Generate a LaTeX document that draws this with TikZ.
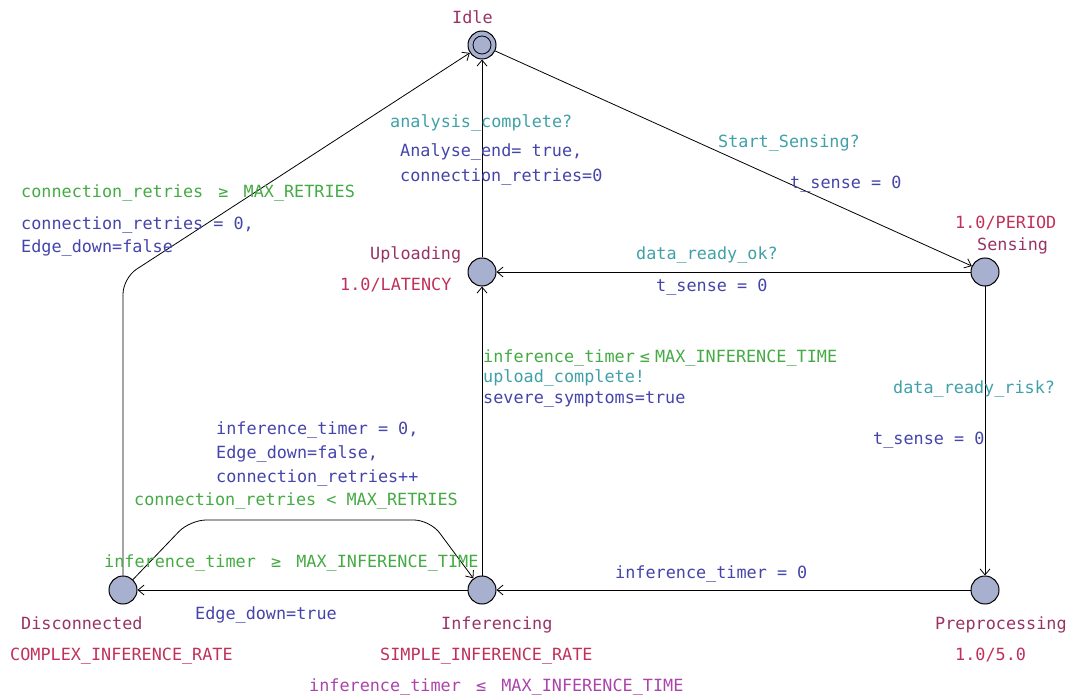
\documentclass[tikz,border=0pt]{standalone}
\usepackage{fontspec}
\newfontfamily\mono{DejaVu Sans Mono}
\usetikzlibrary{arrows.meta}
\definecolor{locname}{HTML}{993366}
\definecolor{rate}{HTML}{C0305A}
\definecolor{sync}{HTML}{40A0A8}
\definecolor{upd}{HTML}{4444AA}
\definecolor{guard}{HTML}{44AA44}
\definecolor{inv}{HTML}{AA44AA}
\definecolor{locfill}{HTML}{A8B0D0}
\newcommand\wsym[1]{\makebox[20.2pt][c]{#1}}
\tikzset{
  lbl/.style={font=\mono\fontsize{16.8}{20}\selectfont, inner sep=0pt, anchor=west, text height=12pt, text depth=3.5pt, yshift=-2pt},
  loc/.style={circle, draw=black, line width=1pt, fill=locfill, minimum size=28pt, inner sep=0pt},
  edge/.style={draw=black, line width=0.8pt, -{Straight Barb[length=6pt,width=10pt]}},
}
\begin{document}
\begin{tikzpicture}[x=1pt,y=-1pt]
\useasboundingbox (0,0) rectangle (1072,695);
% locations
\node[loc] (idle) at (482,45) {};
\node[circle, draw=black, line width=0.8pt, minimum size=18pt, inner sep=0pt] (idlein) at (482,45) {};
\node[loc] (sens) at (985,272) {};
\node[loc] (upl) at (482,272) {};
\node[loc] (inf) at (482,590) {};
\node[loc] (dis) at (123,590) {};
\node[loc] (pre) at (985,590) {};
% location labels
\node[lbl, text=locname] (lidle) at (452,17) {Idle};
\node[lbl, text=locname] (lupl) at (370,253) {Uploading};
\node[lbl, text=rate] (rupl) at (340,284) {1.0/LATENCY};
\node[lbl, text=rate] (rsens) at (955,222) {1.0/PERIOD};
\node[lbl, text=locname] (lsens) at (977,244) {Sensing};
\node[lbl, text=locname] (ldis) at (21,623) {Disconnected};
\node[lbl, text=rate] (rdis) at (10,654) {COMPLEX\_INFERENCE\_RATE};
\node[lbl, text=locname] (linf) at (441,623) {Inferencing};
\node[lbl, text=rate] (rinf) at (380,654) {SIMPLE\_INFERENCE\_RATE};
\node[lbl, text=inv] (iinf) at (309,685) {inference\_timer \wsym{≤} MAX\_INFERENCE\_TIME};
\node[lbl, text=locname] (lpre) at (935,623) {Preprocessing};
\node[lbl, text=rate] (rpre) at (955,654) {1.0/5.0};
% corner coordinates
\coordinate (c1) at (123,278);
\coordinate (c2) at (190,520);
\coordinate (c3) at (430,520);
% edges
\draw[edge] (idle) -- (sens);
\draw[edge] (sens) -- (upl);
\draw[edge] (upl) -- (idle);
\draw[edge] (sens) -- (pre);
\draw[edge] (pre) -- (inf);
\draw[edge] (inf) -- (upl);
\draw[edge] (inf) -- (dis);
\draw[edge, rounded corners=16pt] (dis) -- (c2) -- (c3) -- (inf);
\draw[edge, rounded corners=16pt] (dis) -- (c1) -- (idle);
% edge labels
\node[lbl, text=sync] (s1) at (718,141) {Start\_Sensing?};
\node[lbl, text=upd] (u1) at (790,182) {t\_sense = 0};
\node[lbl, text=sync] (s2) at (636,253) {data\_ready\_ok?};
\node[lbl, text=upd] (u2) at (656,285) {t\_sense = 0};
\node[lbl, text=sync] (s3) at (390,121) {analysis\_complete?};
\node[lbl, text=upd] (u3a) at (400,150) {Analyse\_end= true,};
\node[lbl, text=upd] (u3b) at (400,175) {connection\_retries=0};
\node[lbl, text=sync] (s4) at (893,387) {data\_ready\_risk?};
\node[lbl, text=upd] (u4) at (873,438) {t\_sense = 0};
\node[lbl, text=upd] (u5) at (615,572) {inference\_timer = 0};
\node[lbl, text=guard] (g6) at (483,356) {inference\_timer\wsym{≤}MAX\_INFERENCE\_TIME};
\node[lbl, text=sync] (s6) at (483,376) {upload\_complete!};
\node[lbl, text=upd] (u6) at (483,397) {severe\_symptoms=true};
\node[lbl, text=guard] (g7) at (104,561) {inference\_timer \wsym{≥} MAX\_INFERENCE\_TIME};
\node[lbl, text=upd] (u7) at (195,613) {Edge\_down=true};
\node[lbl, text=guard] (g8) at (134,499) {connection\_retries < MAX\_RETRIES};
\node[lbl, text=upd] (u8a) at (216,428) {inference\_timer = 0,};
\node[lbl, text=upd] (u8b) at (216,452) {Edge\_down=false,};
\node[lbl, text=upd] (u8c) at (216,476) {connection\_retries++};
\node[lbl, text=guard] (g9) at (21,191) {connection\_retries \wsym{≥} MAX\_RETRIES};
\node[lbl, text=upd] (u9a) at (21,223) {connection\_retries = 0,};
\node[lbl, text=upd] (u9b) at (21,246) {Edge\_down=false};
\end{tikzpicture}
\end{document}
